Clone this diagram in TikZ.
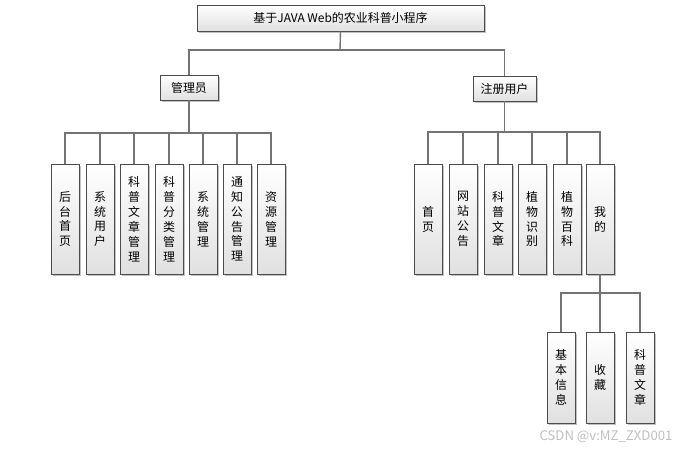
\documentclass[tikz,border=0pt]{standalone}
\usepackage{fontspec}
\setmainfont{Noto Sans CJK SC}
\usetikzlibrary{shadows}
\newcommand\nl{\\[-0.6pt]}

\begin{document}
\begin{tikzpicture}[x=0.02cm, y=-0.02cm, font=\fontsize{6.8}{9.1}\selectfont,
  box/.style={draw=black!70, line width=0.5pt, top color=white, bottom color=black!12,
    drop shadow={shadow xshift=1.2pt, shadow yshift=-1.2pt, fill=black!40, opacity=0.6},
    inner sep=0pt, align=center},
  hbox/.style={box, minimum height=0.5cm},
  vbox/.style={box, minimum width=0.56cm, minimum height=2.2cm},
  sbox/.style={box, minimum width=0.56cm, minimum height=1.82cm},
  link/.style={draw=black!55, line width=0.8pt}]
  \useasboundingbox (0,0) rectangle (676,451);
  % 顶层
  \node[hbox, minimum width=5.74cm, minimum height=0.52cm] (title) at (340.5,18) {基于JAVA Web的农业科普小程序};
  \node[hbox, minimum width=1.16cm] (adm) at (189,87.5) {管理员};
  \node[hbox, minimum width=1.26cm] (usr) at (504.5,88.5) {注册用户};
  \coordinate (busT) at (340,50);
  \draw[link] (title.south) -- (busT);
  \draw[link] (busT) -| (adm.north);
  \draw[link] (busT) -| (usr.north);
  % 管理员功能
  \node[vbox] (a1) at (65,219)  {后\nl 台\nl 首\nl 页};
  \node[vbox] (a2) at (100,219) {系\nl 统\nl 用\nl 户};
  \node[vbox] (a3) at (134,219) {科\nl 普\nl 文\nl 章\nl 管\nl 理};
  \node[vbox] (a4) at (169,219) {科\nl 普\nl 分\nl 类\nl 管\nl 理};
  \node[vbox] (a5) at (203,219) {系\nl 统\nl 管\nl 理};
  \node[vbox] (a6) at (237,219) {通\nl 知\nl 公\nl 告\nl 管\nl 理};
  \node[vbox] (a7) at (271,219) {资\nl 源\nl 管\nl 理};
  \coordinate (busA) at (189,133);
  \draw[link] (adm.south) -- (busA);
  \draw[link] (a1.north) |- (busA);
  \draw[link] (a2.north) |- (busA);
  \draw[link] (a3.north) |- (busA);
  \draw[link] (a4.north) |- (busA);
  \draw[link] (a5.north) |- (busA);
  \draw[link] (a6.north) |- (busA);
  \draw[link] (a7.north) |- (busA);
  % 注册用户功能
  \node[vbox] (u1) at (428,219) {首\nl 页};
  \node[vbox] (u2) at (463,219) {网\nl 站\nl 公\nl 告};
  \node[vbox] (u3) at (498,219) {科\nl 普\nl 文\nl 章};
  \node[vbox] (u4) at (532,219) {植\nl 物\nl 识\nl 别};
  \node[vbox] (u5) at (567,219) {植\nl 物\nl 百\nl 科};
  \node[vbox] (u6) at (600,219) {我\nl 的};
  \coordinate (busU) at (504.5,132);
  \draw[link] (usr.south) -- (busU);
  \draw[link] (u1.north) |- (busU);
  \draw[link] (u2.north) |- (busU);
  \draw[link] (u3.north) |- (busU);
  \draw[link] (u4.north) |- (busU);
  \draw[link] (u5.north) |- (busU);
  \draw[link] (u6.north) |- (busU);
  % 我的
  \node[sbox] (m1) at (561,377.5) {基\nl 本\nl 信\nl 息};
  \node[sbox] (m2) at (600,377.5) {收\nl 藏};
  \node[sbox] (m3) at (640,377.5) {科\nl 普\nl 文\nl 章};
  \coordinate (busM) at (600,293);
  \draw[link] (u6.south) -- (busM);
  \draw[link] (m1.north) |- (busM);
  \draw[link] (m2.north) |- (busM);
  \draw[link] (m3.north) |- (busM);
  \node[text=black!25, font=\fontsize{7.5}{8}\selectfont] (wm) at (606,437) {CSDN @v:MZ\_ZXD001};
\end{tikzpicture}
\end{document}
